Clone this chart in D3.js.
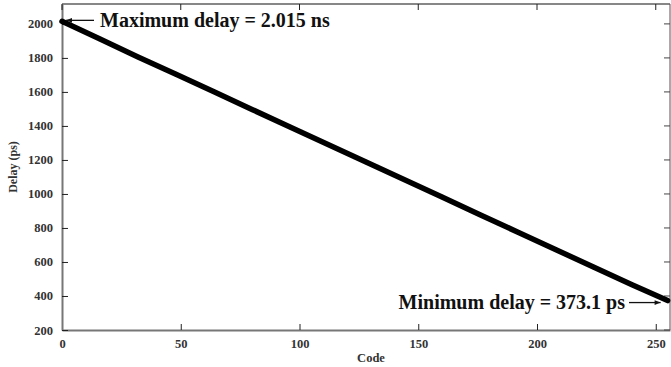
<!DOCTYPE html>
<html lang="en">
<head>
  <meta charset="UTF-8" />
  <title>Delay vs Code</title>
  <script src="https://d3js.org/d3.v7.min.js"></script>
  <style>
    body { margin: 0; background: #fff; }
    svg { display: block; }
    .tick text { font-family: "Liberation Serif", "Times New Roman", serif; font-weight: bold; font-size: 12.5px; fill: #333; }
    .lbl { font-family: "Liberation Serif", "Times New Roman", serif; font-weight: bold; fill: #333; }
    .note { font-family: "Liberation Serif", "Times New Roman", serif; font-weight: bold; font-size: 20px; fill: #111; }
  </style>
</head>
<body>
  <svg id="chart" width="671" height="367"></svg>
  <script>
    // valores
    const codes  = [0, 16, 32, 48, 64, 80, 96, 112, 128, 144, 160, 176, 192, 208, 224, 240, 255];
    const delays = [2015, 1911, 1806, 1704, 1601, 1497, 1394, 1291, 1188, 1085, 982, 878, 775, 672, 569, 466, 373.1];
    const xTicks = [0, 50, 100, 150, 200, 250];
    const yTicks = [200, 400, 600, 800, 1000, 1200, 1400, 1600, 1800, 2000];
    const maxNote = "Maximum delay = 2.015 ns";
    const minNote = "Minimum delay = 373.1 ps";

    const m = { left: 62, right: 1, top: 4, bottom: 37 };
    const width = 671, height = 367;
    const svg = d3.select("#chart");

    const x = d3.scaleLinear().domain([0, 256]).range([m.left, width - m.right]);
    const y = d3.scaleLinear().domain([200, 2117]).range([height - m.bottom, m.top]);
    const data = codes.map((c, i) => ({ c, d: delays[i] }));

    // marco: arriba y derecha
    svg.append("line").attr("x1", m.left).attr("x2", width - m.right)
      .attr("y1", m.top).attr("y2", m.top).attr("stroke", "#111").attr("stroke-width", 1.2);
    svg.append("line").attr("x1", width - m.right).attr("x2", width - m.right)
      .attr("y1", m.top).attr("y2", height - m.bottom).attr("stroke", "#555").attr("stroke-width", 1);

    // ejes con ticks hacia adentro
    const xAxis = svg.append("g").attr("transform", `translate(0,${height - m.bottom})`)
      .call(d3.axisBottom(x).tickValues(xTicks).tickFormat(d3.format("d"))
        .tickSizeInner(-6).tickSizeOuter(0).tickPadding(9));
    const yAxis = svg.append("g").attr("transform", `translate(${m.left},0)`)
      .call(d3.axisLeft(y).tickValues(yTicks).tickFormat(d3.format("d"))
        .tickSizeInner(-6).tickSizeOuter(0).tickPadding(9));
    xAxis.select(".domain").attr("stroke", "#777").attr("stroke-width", 2);
    yAxis.select(".domain").attr("stroke", "#777").attr("stroke-width", 2);
    xAxis.selectAll(".tick line").attr("stroke", "#222");
    yAxis.selectAll(".tick line").attr("stroke", "#222");

    // ticks espejo arriba y derecha
    svg.append("g").selectAll("line").data(xTicks).join("line")
      .attr("x1", d => x(d)).attr("x2", d => x(d))
      .attr("y1", m.top).attr("y2", m.top + 6).attr("stroke", "#222");
    svg.append("g").selectAll("line").data(yTicks).join("line")
      .attr("x1", width - m.right).attr("x2", width - m.right - 6)
      .attr("y1", d => y(d)).attr("y2", d => y(d)).attr("stroke", "#444");

    // curva
    svg.append("path").datum(data)
      .attr("fill", "none").attr("stroke", "#000").attr("stroke-width", 5.5)
      .attr("stroke-linecap", "round")
      .attr("d", d3.line().x(d => x(d.c)).y(d => y(d.d)));

    // etiquetas de ejes
    svg.append("text").attr("class", "lbl").attr("font-size", 12.5)
      .attr("text-anchor", "middle")
      .attr("x", (m.left + width - m.right) / 2 + 5).attr("y", 362)
      .text("Code");
    svg.append("text").attr("class", "lbl").attr("font-size", 12)
      .attr("text-anchor", "middle")
      .attr("transform", `translate(17,${(m.top + height - m.bottom) / 2}) rotate(-90)`)
      .text("Delay (ps)");

    // anotaciones con flechas
    svg.append("defs").append("marker").attr("id", "ah")
      .attr("viewBox", "0 0 10 10").attr("refX", 10).attr("refY", 5)
      .attr("markerWidth", 9).attr("markerHeight", 6).attr("orient", "auto")
      .attr("markerUnits", "userSpaceOnUse")
      .append("path").attr("d", "M0,1 L10,5 L0,9 Z").attr("fill", "#111");

    const p0 = data[0], p1 = data[data.length - 1];
    svg.append("line").attr("x1", 94).attr("y1", y(p0.d) - 1)
      .attr("x2", x(p0.c) + 4).attr("y2", y(p0.d) - 1)
      .attr("stroke", "#111").attr("stroke-width", 1.3).attr("marker-end", "url(#ah)");
    svg.append("text").attr("class", "note").attr("x", 100).attr("y", 27).text(maxNote);

    svg.append("line").attr("x1", 629).attr("y1", y(p1.d) + 2)
      .attr("x2", x(p1.c) - 7).attr("y2", y(p1.d) + 2)
      .attr("stroke", "#111").attr("stroke-width", 1.3).attr("marker-end", "url(#ah)");
    svg.append("text").attr("class", "note").attr("text-anchor", "end")
      .attr("x", 625).attr("y", 309).text(minNote);
  </script>
</body>
</html>
